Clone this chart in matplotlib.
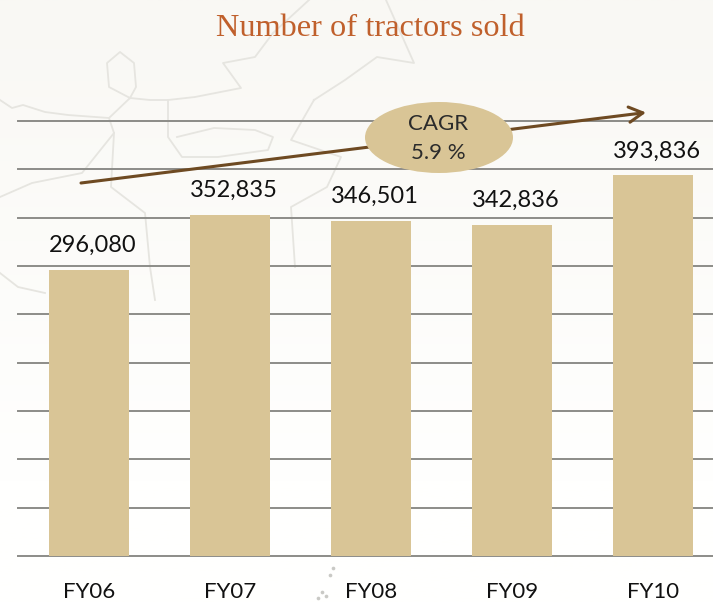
import numpy as np
import matplotlib
matplotlib.use("Agg")
import matplotlib.pyplot as plt
from matplotlib.patches import Ellipse

W, H = 713, 602

# Chart data
years = ["FY06", "FY07", "FY08", "FY09", "FY10"]
tractors = [296080, 352835, 346501, 342836, 393836]
labels = ["296,080", "352,835", "346,501", "342,836", "393,836"]
y_ticks = [0, 50000, 100000, 150000, 200000, 250000, 300000, 350000, 400000, 450000]

# Faint map outlines behind the chart, in pixels of the picture
map_lines = [
    [(0, 100), (12, 108), (23, 105), (45, 112), (68, 115), (109, 118), (130, 98), (150, 100), (168, 100),
     (195, 97), (241, 88), (223, 63), (255, 57), (273, 33), (309, 0)],
    [(130, 98), (109, 87), (107, 63), (120, 52), (134, 63), (136, 87), (130, 98)],
    [(168, 100), (168, 137), (182, 157), (218, 157), (268, 150), (273, 137), (255, 130), (214, 128), (177, 137)],
    [(314, 100), (345, 80), (377, 57), (414, 63), (386, 0)],
    [(314, 100), (291, 140), (341, 157), (327, 187), (291, 207), (295, 267)],
    [(0, 197), (32, 183), (82, 173), (114, 133), (109, 118)],
    [(114, 133), (111, 187), (145, 213), (150, 267), (155, 300)],
    [(0, 273), (18, 287), (45, 293)],
]
dots = [(333, 568), (330, 575), (322, 592), (326, 596), (318, 598)]

bar_color = "#D9C596"
grid_color = "#8C8C88"
arrow_color = "#6E4A22"

fig = plt.figure(figsize=(W / 100, H / 100), dpi=100)

# Background: warm off-white fading to white at the bottom
bg = fig.add_axes([0, 0, 1, 1], zorder=0)
shade = np.linspace(0, 1, 256).reshape(-1, 1)
top = np.array([249, 248, 244]) / 255
bottom = np.array([255, 255, 254]) / 255
bg.imshow(top + (bottom - top) * np.clip(shade * 1.25, 0, 1)[..., None], aspect="auto",
          extent=[0, W, H, 0])
for line in map_lines:
    xs, ys = zip(*line)
    bg.plot(xs, ys, color="#E6E5E0", lw=1.3)
bg.scatter(*zip(*dots), s=7, color="#C9C9C5", lw=0)
bg.set_xlim(0, W)
bg.set_ylim(H, 0)
bg.axis("off")

# Chart axes
ax = fig.add_axes([18 / W, (H - 556) / H, (W - 18) / W, 435 / H], zorder=1)
ax.patch.set_alpha(0)
x = np.arange(len(years))
ax.bar(x, tractors, width=80 / 141, color=bar_color, zorder=3)
ax.set_xlim(-71 / 141, 624 / 141)
ax.set_ylim(0, 450000)
ax.set_yticks(y_ticks)
ax.set_yticklabels([])
ax.grid(axis="y", color=grid_color, lw=1.4, zorder=1, clip_on=False)
ax.set_axisbelow(True)
ax.tick_params(length=0)
for side in ax.spines:
    ax.spines[side].set_visible(False)
ax.set_xticks(x)
ax.set_xticklabels(years, fontsize=16, family="Lato", color="#111111")
ax.tick_params(axis="x", pad=18.5)
for xi, v, label in zip(x, tractors, labels):
    ax.annotate(label, (xi, v), xytext=(3, 10), textcoords="offset points", ha="center", va="bottom",
                fontsize=17, family="Lato", color="#111111", zorder=6, annotation_clip=False)

# Overlay for title, trend arrow and CAGR bubble, in pixels
over = fig.add_axes([0, 0, 1, 1], zorder=2)
over.set_xlim(0, W)
over.set_ylim(H, 0)
over.axis("off")
over.text(370.5, 28, "Number of tractors sold", ha="center", va="center", fontsize=23.3,
          family="Liberation Serif", color="#C0602C")
over.annotate("", xy=(646, 112.5), xytext=(81, 183), arrowprops=dict(
    arrowstyle="->,head_length=1.0,head_width=0.55", color=arrow_color, lw=2.2, shrinkA=0, shrinkB=0),
    zorder=2)
over.add_patch(Ellipse((439, 137.5), 148, 71, color=bar_color, lw=0, zorder=3))
over.text(438, 124, "CAGR", ha="center", va="center", fontsize=16, family="Lato", color="#2B2B2B", zorder=4)
over.text(438.5, 153, "5.9 %", ha="center", va="center", fontsize=16, family="Lato", color="#2B2B2B", zorder=4)

fig.savefig("out.png", dpi=100)
